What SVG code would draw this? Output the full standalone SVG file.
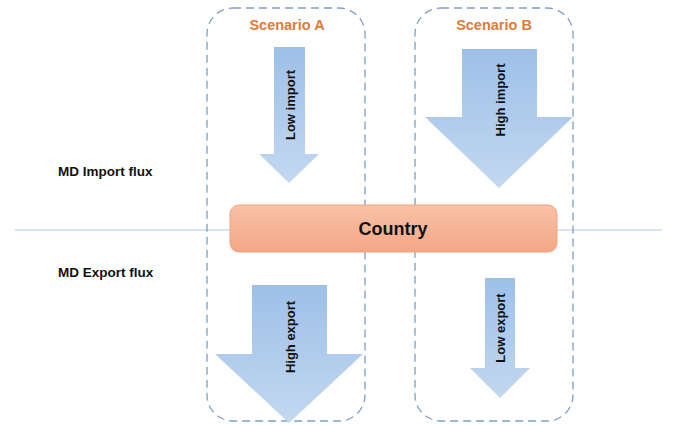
<svg xmlns="http://www.w3.org/2000/svg" width="681" height="425" viewBox="0 0 681 425">
<defs>
<linearGradient id="blue" x1="0" y1="0" x2="0" y2="1">
<stop offset="0" stop-color="#9dc0e8"/>
<stop offset="1" stop-color="#c3d8f0"/>
</linearGradient>
<linearGradient id="orange" x1="0" y1="0" x2="0" y2="1">
<stop offset="0" stop-color="#f8c2a6"/>
<stop offset="1" stop-color="#f4a686"/>
</linearGradient>
</defs>
<style>
.scen{fill:none;stroke:#7f9fc0;stroke-width:1.3;stroke-dasharray:8 5}
.arrow{fill:url(#blue)}
.lbl{font-family:"Liberation Sans",Arial,sans-serif;font-weight:bold;fill:#111}
.albl{font-size:13px;text-anchor:middle;dominant-baseline:central}
.title{font-family:"Liberation Sans",Arial,sans-serif;font-weight:bold;font-size:14.5px;fill:#e07b39;text-anchor:middle}
.row{font-size:13.5px}
</style>
<rect width="681" height="425" fill="#fff"/>
<g id="connectors">
<line x1="15" y1="230" x2="662" y2="230" stroke="#c7dbf0" stroke-width="1.5"/>
</g>
<g id="scenarioA">
<rect class="scen" x="207" y="8" width="158" height="413" rx="26"/>
<text class="title" x="287" y="30">Scenario A</text>
</g>
<g id="scenarioB">
<rect class="scen" x="415" y="8" width="158" height="413" rx="26"/>
<text class="title" x="494" y="30">Scenario B</text>
</g>
<g id="rowImport"><text class="lbl row" x="58" y="176">MD Import flux</text></g>
<g id="rowExport"><text class="lbl row" x="58" y="277">MD Export flux</text></g>
<g id="lowImport">
<polygon class="arrow" points="274,47 305,47 305,154 319,154 289,183 259,154 274,154"/>
<text class="lbl albl" transform="translate(290,105) rotate(-90)">Low import</text>
</g>
<g id="highImport">
<polygon class="arrow" points="462,49 537,49 537,117 573,117 499,188 425,117 462,117"/>
<text class="lbl albl" transform="translate(500,100) rotate(-90)">High import</text>
</g>
<g id="highExport">
<polygon class="arrow" points="252,285 327,285 327,354 363,354 289,423 215,354 252,354"/>
<text class="lbl albl" transform="translate(290,337) rotate(-90)">High export</text>
</g>
<g id="lowExport">
<polygon class="arrow" points="485,278 515,278 515,368 530,368 500,398 470,368 485,368"/>
<text class="lbl albl" transform="translate(500,328) rotate(-90)">Low export</text>
</g>
<g id="country">
<rect x="230" y="205" width="327" height="47" rx="9" fill="url(#orange)" stroke="#f2a27e" stroke-width="1"/>
<text class="lbl" x="393" y="235" font-size="18" text-anchor="middle">Country</text>
</g>
</svg>
